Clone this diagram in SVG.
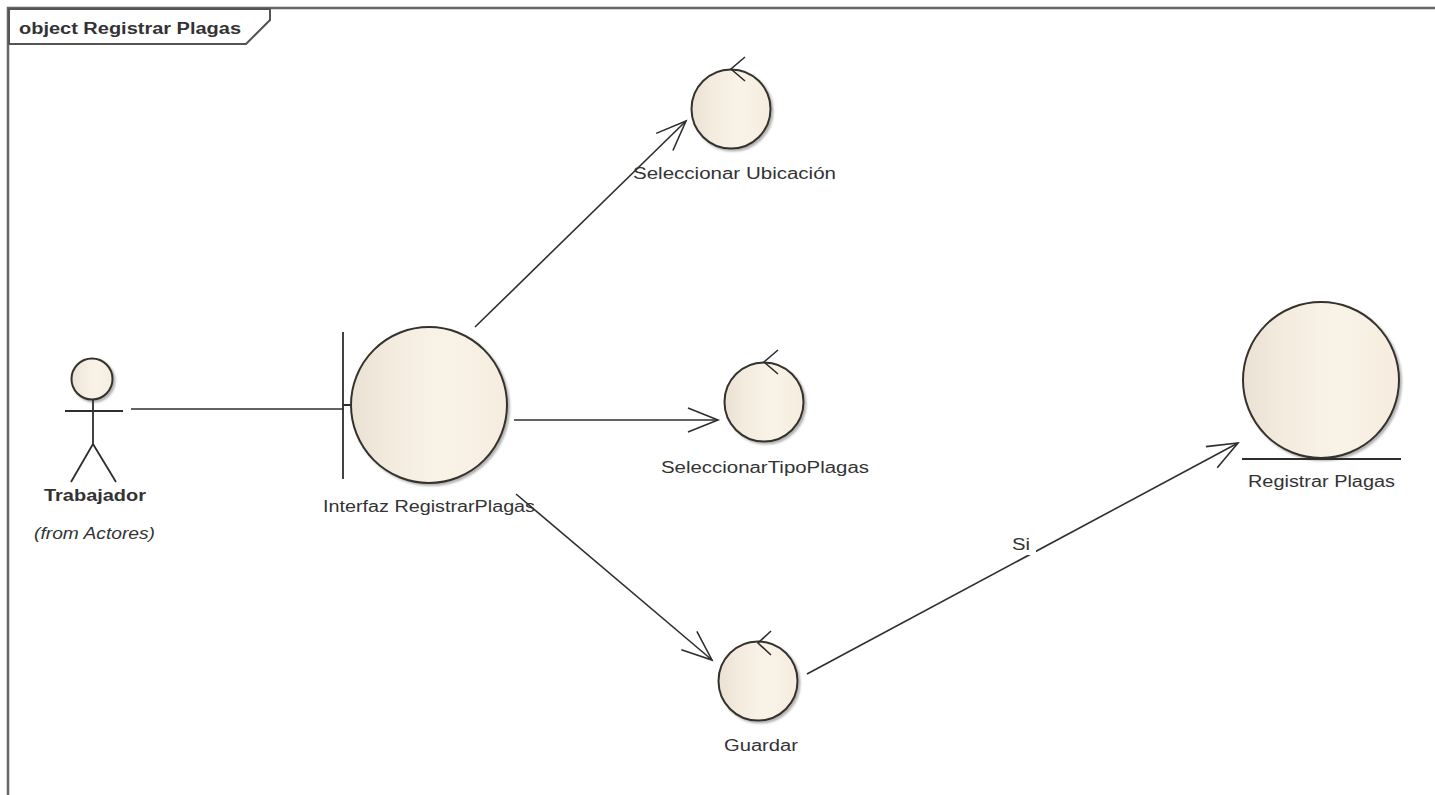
<svg xmlns="http://www.w3.org/2000/svg" width="1435" height="795" viewBox="0 0 1435 795">
<defs>
<linearGradient id="g" x1="0" y1="0" x2="1" y2="0"><stop offset="0" stop-color="#e9e1d3"/><stop offset="0.25" stop-color="#f4ebdf"/><stop offset="0.6" stop-color="#f9f3e7"/><stop offset="1" stop-color="#f6ecdf"/></linearGradient>
<marker id="a" markerUnits="userSpaceOnUse" markerWidth="36" markerHeight="30" refX="33" refY="15" orient="auto"><path d="M3 3L33 15L3 27" fill="none" stroke="#2e2e2e" stroke-width="1.6"/></marker>
<filter id="s" x="-10%" y="-10%" width="125%" height="125%"><feDropShadow dx="2" dy="2" stdDeviation="1.2" flood-color="#000" flood-opacity="0.3"/></filter>
</defs>
<style>
.b{fill:url(#g);stroke:#35322d;stroke-width:2;filter:url(#s)}
.l{fill:none;stroke:#2e2e2e;stroke-width:1.8}
.c{fill:none;stroke:#2e2e2e;stroke-width:1.6}
text{font-family:"Liberation Sans",Arial,sans-serif;font-size:16px;fill:#333}
</style>
<rect width="1435" height="795" fill="#fff"/>
<g id="frame">
<path d="M1435 8H8V795" fill="none" stroke="#666" stroke-width="2.5"/>
<path d="M9 9H270V20L246 44H9Z" fill="#fff" stroke="#555" stroke-width="2"/>
<text x="19" y="34" textLength="222" lengthAdjust="spacingAndGlyphs" style="font-weight:bold">object Registrar Plagas</text>
</g>
<g id="connectors">
<path class="c" d="M131 409H344"/>
<path class="c" d="M475 327L686 121" marker-end="url(#a)"/>
<path class="c" d="M514 420H718" marker-end="url(#a)"/>
<path class="c" d="M516 494L712 660" marker-end="url(#a)"/>
<path class="c" d="M807 674L1238 443" marker-end="url(#a)"/>
<rect x="1008" y="533" width="28" height="22" fill="#fff"/>
<text x="1012" y="550" textLength="18" lengthAdjust="spacingAndGlyphs">Si</text>
</g>
<g id="actor">
<circle class="b" cx="92" cy="379" r="20.500"/>
<path class="l" d="M65 411H123M93 400V444M93 444L71 482M93 444L116 482"/>
<text x="44" y="501" textLength="102" lengthAdjust="spacingAndGlyphs" style="font-weight:bold">Trabajador</text>
<text x="34" y="539" textLength="121" lengthAdjust="spacingAndGlyphs" style="font-style:italic">(from Actores)</text>
</g>
<g id="interfaz">
<path class="l" d="M343 332V479M343 405H351"/>
<circle class="b" cx="429" cy="405" r="78"/>
<text x="323" y="512" textLength="212" lengthAdjust="spacingAndGlyphs">Interfaz RegistrarPlagas</text>
</g>
<g id="ubicacion">
<circle class="b" cx="731" cy="109" r="39.500"/>
<path class="c" d="M745 57L731 69L745 81"/>
<text x="633" y="179" textLength="203" lengthAdjust="spacingAndGlyphs">Seleccionar Ubicación</text>
</g>
<g id="tipo">
<circle class="b" cx="764" cy="402" r="39.500"/>
<path class="c" d="M778 350L764 362L778 374"/>
<text x="661" y="473" textLength="208" lengthAdjust="spacingAndGlyphs">SeleccionarTipoPlagas</text>
</g>
<g id="guardar">
<circle class="b" cx="758" cy="681" r="39.500"/>
<path class="c" d="M771 631L758 643L771 655"/>
<text x="724" y="751" textLength="74" lengthAdjust="spacingAndGlyphs">Guardar</text>
</g>
<g id="registrar">
<circle class="b" cx="1321" cy="380" r="78"/>
<path class="l" d="M1242 459H1401"/>
<text x="1248" y="487" textLength="147" lengthAdjust="spacingAndGlyphs">Registrar Plagas</text>
</g>
</svg>
